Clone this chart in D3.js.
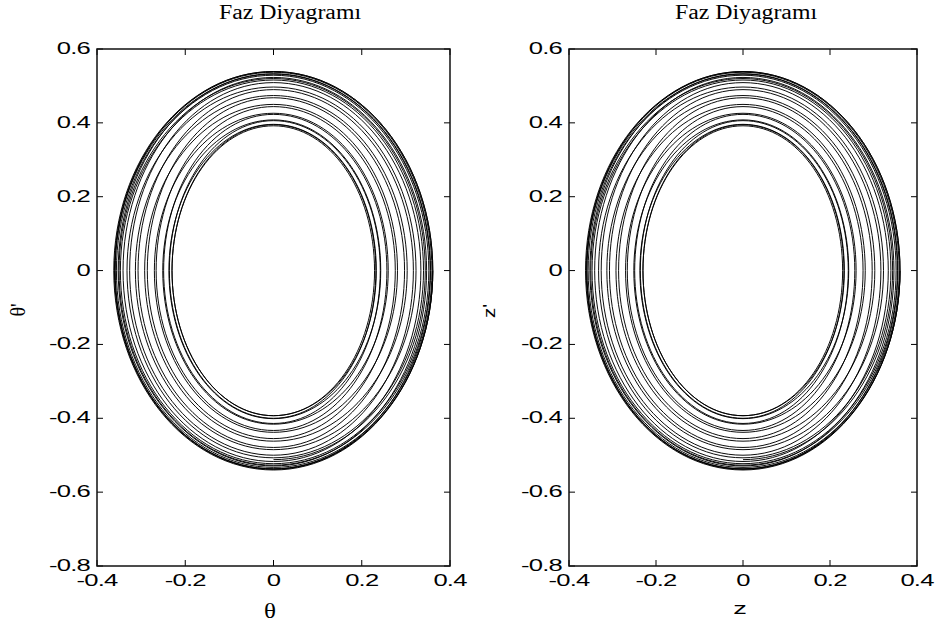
<!DOCTYPE html>
<html><head><meta charset="utf-8">
<script src="https://cdn.jsdelivr.net/npm/d3@7"></script>
<style>html,body{margin:0;padding:0;background:#fff;} svg{display:block}</style>
</head><body><svg id="c" width="937" height="624"></svg>
<script>
// ---- data ----
const xTicks = [-0.4, -0.2, 0, 0.2, 0.4];
const yTicks = [-0.8, -0.6, -0.4, -0.2, 0, 0.2, 0.4, 0.6];
const titles = ["Faz Diyagramı", "Faz Diyagramı"];
const xLabels = ["θ", "z"];
const yLabels = ["θ'", "z'"];
// amplitude of each half swing (|displacement| peak)
const swingX = [0.361, 0.3605, 0.359, 0.356, 0.352, 0.347, 0.340, 0.332, 0.323, 0.313, 0.303, 0.292,
  0.281, 0.270, 0.260, 0.251, 0.243, 0.237, 0.233, 0.230, 0.229, 0.230, 0.232, 0.236,
  0.242, 0.249, 0.257, 0.266, 0.276, 0.286, 0.297, 0.307, 0.317, 0.326, 0.334, 0.341,
  0.347, 0.352, 0.356, 0.359, 0.361, 0.362, 0.361, 0.359, 0.355, 0.350, 0.344, 0.337];
// |velocity| peak of each half swing
const swingY = [0.539, 0.538, 0.537, 0.533, 0.529, 0.523, 0.516, 0.507, 0.497, 0.485, 0.474, 0.462,
  0.450, 0.438, 0.426, 0.416, 0.408, 0.401, 0.396, 0.393, 0.392, 0.393, 0.395, 0.400,
  0.406, 0.414, 0.423, 0.433, 0.444, 0.455, 0.468, 0.479, 0.490, 0.500, 0.509, 0.517,
  0.523, 0.529, 0.533, 0.537, 0.539, 0.540, 0.539, 0.537, 0.532, 0.527, 0.520, 0.512];

// ---- layout ----
const panels = [
  {x0: 97, x1: 450, y0: 49, y1: 566, titleX: 290, xlab: {x: 270, y: 618, font: "Liberation Serif", size: 20, sx: 1.25},
   ylab: {x: 25, y: 310, font: "Liberation Serif", size: 20, sx: 1.0}},
  {x0: 569, x1: 917, y0: 49, y1: 566, titleX: 746, xlab: {x: 740, y: 614, font: "Liberation Sans", size: 17, sx: 1.6},
   ylab: {x: 495, y: 311, font: "Liberation Sans", size: 17, sx: 1.2}}
];
const svg = d3.select("#c");
const fmt = d => (Math.abs(d) < 1e-9 ? "0" : String(+d.toFixed(1)));

function stext(g, x, y, str, o) {
  return g.append("text")
    .attr("transform", `translate(${x},${y})` + (o.rot ? ` rotate(${o.rot})` : "") + ` scale(${o.sx || 1},1)`)
    .attr("text-anchor", o.anchor || "middle")
    .attr("font-family", o.font)
    .attr("font-size", o.size)
    .attr("letter-spacing", o.ls || 0)
    .attr("fill", "#000")
    .text(str);
}

// trajectory points built from the half-swing peaks
const pts = [];
swingX.forEach((a, k) => {
  const s = k % 2 === 0 ? 1 : -1;
  pts.push([0, s * swingY[k]]);
  pts.push([s * a, 0]);
});

// draw the cardinal spline but drop the two end segments (they have no neighbour on one side)
function trajectoryPath(line) {
  const ctx = d3.path();
  const nSeg = pts.length - 1;
  let seg = 0;
  const proxy = {
    moveTo: (x, y) => ctx.moveTo(x, y),
    lineTo: (x, y) => ctx.lineTo(x, y),
    closePath: () => ctx.closePath(),
    bezierCurveTo: (a, b, c, d, e, f) => {
      seg++;
      if (seg === 1 || seg === nSeg) ctx.moveTo(e, f);
      else ctx.bezierCurveTo(a, b, c, d, e, f);
    }
  };
  line.context(proxy)(pts);
  return ctx.toString();
}

panels.forEach((p, i) => {
  const x = d3.scaleLinear().domain([-0.4, 0.4]).range([p.x0, p.x1]);
  const y = d3.scaleLinear().domain([-0.8, 0.6]).range([p.y1, p.y0]);
  const g = svg.append("g");

  const clipId = "clip" + i;
  g.append("clipPath").attr("id", clipId).append("rect")
    .attr("x", p.x0).attr("y", p.y0).attr("width", p.x1 - p.x0).attr("height", p.y1 - p.y0);

  const line = d3.line().x(d => x(d[0])).y(d => y(d[1])).curve(d3.curveCardinal.tension(-0.657));
  g.append("path").attr("clip-path", `url(#${clipId})`)
    .attr("d", trajectoryPath(line)).attr("fill", "none").attr("stroke", "#000")
    .attr("stroke-width", 0.95).attr("stroke-linejoin", "round");

  // ticks (inward, all four sides)
  const tl = 6;
  const tg = g.append("g").attr("stroke", "#000").attr("stroke-width", 1);
  xTicks.forEach(t => {
    tg.append("line").attr("x1", x(t)).attr("x2", x(t)).attr("y1", p.y1).attr("y2", p.y1 - tl);
    tg.append("line").attr("x1", x(t)).attr("x2", x(t)).attr("y1", p.y0).attr("y2", p.y0 + tl);
  });
  yTicks.forEach(t => {
    tg.append("line").attr("y1", y(t)).attr("y2", y(t)).attr("x1", p.x0).attr("x2", p.x0 + tl);
    tg.append("line").attr("y1", y(t)).attr("y2", y(t)).attr("x1", p.x1).attr("x2", p.x1 - tl);
  });
  // box
  g.append("rect").attr("x", p.x0).attr("y", p.y0).attr("width", p.x1 - p.x0).attr("height", p.y1 - p.y0)
    .attr("fill", "none").attr("stroke", "#111").attr("stroke-width", 1.5);

  // tick labels
  const tf = {font: "Liberation Sans", size: 16, sx: 1.6, ls: -0.5};
  xTicks.forEach(t => stext(g, x(t), p.y1 + 20, fmt(t), Object.assign({anchor: "middle"}, tf)));
  yTicks.forEach(t => stext(g, p.x0 - 7, y(t) + 5, fmt(t), Object.assign({anchor: "end"}, tf)));

  // title and labels
  stext(g, p.titleX, 19, titles[i], {font: "Liberation Serif", size: 20, sx: 1.19});
  stext(g, p.xlab.x, p.xlab.y, xLabels[i], p.xlab);
  stext(g, p.ylab.x, p.ylab.y, yLabels[i], Object.assign({rot: -90}, p.ylab));
});
</script></body></html>
